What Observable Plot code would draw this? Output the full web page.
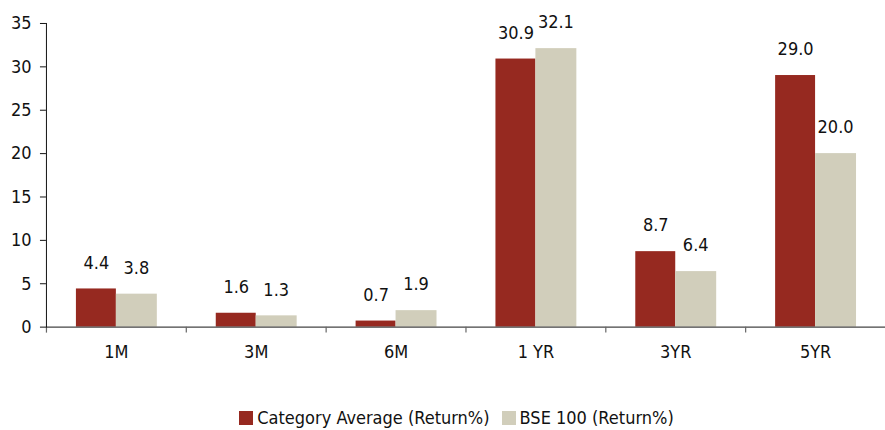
<!DOCTYPE html>
<html><head><meta charset="utf-8">
<script src="https://cdn.jsdelivr.net/npm/d3@7"></script>
<script src="https://cdn.jsdelivr.net/npm/@observablehq/plot@0.6"></script>
<style>
body{margin:0;background:#fff;font-family:"DejaVu Sans Condensed","DejaVu Sans",sans-serif;font-stretch:condensed;}
#legend{display:flex;justify-content:center;align-items:center;gap:12px;font-size:18px;color:#111;margin-top:37px;margin-left:28px}
#legend span.sw{display:inline-block;width:14px;height:14px;margin-right:4px;vertical-align:-1px}
</style></head>
<body><div id="chart"></div>
<div id="legend"></div>
<script>
const categories = ["1M","3M","6M","1 YR","3YR","5YR"];
const seriesNames = ["Category Average (Return%)","BSE 100 (Return%)"];
const categoryAverage = [4.4,1.6,0.7,30.9,8.7,29.0];
const bse100 = [3.8,1.3,1.9,32.1,6.4,20.0];
const yTicks = [0,5,10,15,20,25,30,35];
const colors = ["#962920","#D1CEBB"];

const catData = categories.map((c,i)=>({cat:c,value:categoryAverage[i]}));
const bseData = categories.map((c,i)=>({cat:c,value:bse100[i]}));
const font = '"DejaVu Sans Condensed","DejaVu Sans",sans-serif';

const plot = Plot.plot({
  width: 886, height: 370,
  marginLeft: 46, marginRight: 0, marginTop: 23, marginBottom: 43,
  style: {fontFamily: font, fontSize: "18px", color: "#111", background: "#fff", overflow: "visible"},
  x: {domain: categories, padding: 0, round: false, label: null},
  y: {domain: [0,35], label: null},
  marks: [
    Plot.barY(catData, {x:"cat", y:"value", fill: colors[0], insetLeft: 30, insetRight: 70}),
    Plot.barY(bseData, {x:"cat", y:"value", fill: colors[1], insetLeft: 70, insetRight: 29}),
    Plot.text(catData, {x:"cat", y:"value", text: d=>d.value.toFixed(1), dx: -20, dy: -26, fill:"#111", fontSize: 18}),
    Plot.text(bseData, {x:"cat", y:"value", text: d=>d.value.toFixed(1), dx: 20, dy: -26, fill:"#111", fontSize: 18}),
    Plot.ruleY([0], {stroke:"#444", strokeWidth: 1.2}),
    Plot.ruleX(categories, {x: d=>d, dx: -70, y1: 0, y2: 0, insetBottom: -6, stroke:"#666", strokeWidth: 1.2}),
    Plot.frame({anchor:"left", stroke:"#111"}),
    Plot.axisY({ticks: yTicks, tickSize: 6, tickPadding: 9, label: null, fontSize: 18, stroke:"#111"}),
    Plot.axisX({tickSize: 0, tickPadding: 18, label: null, fontSize: 18})
  ]
});
document.getElementById("chart").appendChild(plot);

const lg = document.getElementById("legend");
seriesNames.forEach((n,i)=>{
  const d = document.createElement("div");
  d.innerHTML = `<span class="sw" style="background:${colors[i]}"></span>${n}`;
  lg.appendChild(d);
});
</script>
</body></html>
